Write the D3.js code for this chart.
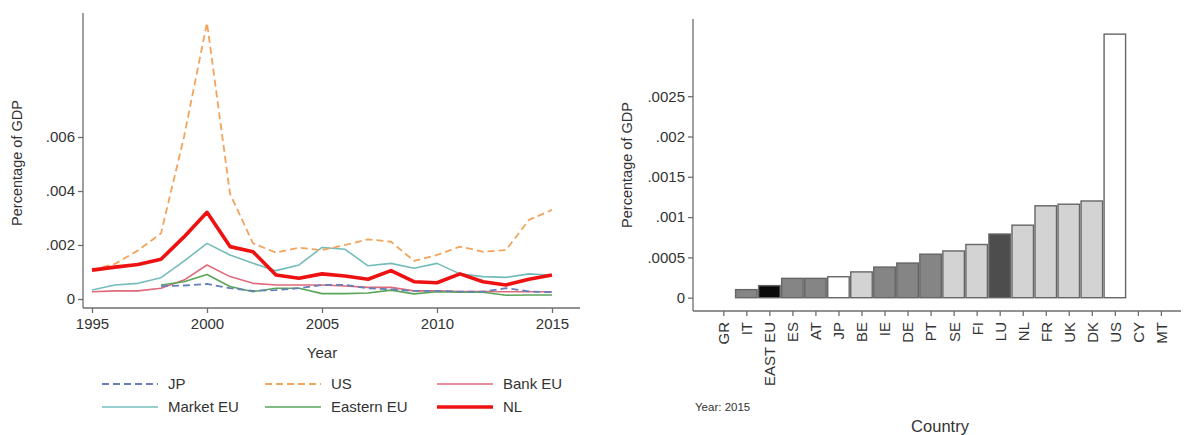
<!DOCTYPE html>
<html><head><meta charset="utf-8">
<script src="https://cdn.jsdelivr.net/npm/d3@7"></script>
<style>
body{margin:0;background:#fff;}
svg{display:block;font-family:"Liberation Sans",Arial,sans-serif;}
</style></head>
<body><svg id="c" width="1184" height="435"></svg>
<script>
// ---- Left chart data ----
const years = d3.range(1995, 2016);
const usVals   = [0.00107,0.0013,0.0018,0.00243,0.0060,0.01023,0.0039,0.00206,0.00172,0.0019,0.00181,0.0020,0.00221,0.00212,0.00141,0.00163,0.00194,0.00175,0.00181,0.00293,0.0033];
const nlVals   = [0.00107,0.00118,0.00128,0.00147,0.0023,0.00321,0.00194,0.00175,0.00089,0.00077,0.00093,0.00085,0.00073,0.00105,0.00064,0.0006,0.00093,0.00064,0.00052,0.00073,0.00089];
const marketEU = [0.00033,0.00052,0.00058,0.00079,0.0014,0.00206,0.00163,0.00132,0.00105,0.00126,0.00191,0.00184,0.00123,0.00132,0.00114,0.00132,0.00093,0.00083,0.0008,0.00093,0.00088];
const bankEU   = [0.00027,0.0003,0.0003,0.0004,0.0007,0.00126,0.00083,0.00058,0.00052,0.00052,0.00052,0.00048,0.00043,0.00043,0.0003,0.0003,0.00028,0.00028,0.00027,0.00027,0.00027];
const eastEU   = [null,null,null,0.00052,0.00064,0.00091,0.00046,0.00027,0.0004,0.0004,0.0002,0.0002,0.00022,0.00033,0.00019,0.00027,0.00025,0.00025,0.00014,0.00015,0.00015];
const jpVals   = [null,null,null,0.00048,0.0005,0.00056,0.0004,0.0003,0.00033,0.0004,0.00052,0.00052,0.0004,0.00036,0.0003,0.0003,0.00027,0.00027,0.0004,0.00028,0.00025];
const leftYTicks = [0, 0.002, 0.004, 0.006];
const leftXTicks = [1995, 2000, 2005, 2010, 2015];

// ---- Right chart data ----
const countries = ["GR","IT","EAST EU","ES","AT","JP","BE","IE","DE","PT","SE","FI","LU","NL","FR","UK","DK","US","CY","MT"];
const barVals   = [null,0.0001,0.00015,0.00024,0.00024,0.00026,0.00032,0.00038,0.00043,0.00054,0.00058,0.00066,0.00079,0.0009,0.00114,0.00116,0.0012,0.00327,null,null];
const barGroup  = ["","mid","black","mid","mid","white","light","mid","mid","mid","light","light","dark","light","light","light","light","white","",""];
const rightYTicks = [0, 0.0005, 0.001, 0.0015, 0.002, 0.0025];

const svg = d3.select("#c");
const fmt = d => d === 0 ? "0" : String(+d.toPrecision(6)).replace(/^0/, "");
const axisCol = "#6e6e6e";
const txtCol = "#333";
const FS = 15;

// ================= LEFT CHART =================
const lx = d3.scaleLinear().domain([1995, 2015]).range([92, 552]);
const ly = d3.scaleLinear().domain([0, 0.0106]).range([299, 12.8]);
const L = svg.append("g");

const yAxL = L.append("g").attr("transform","translate(83,0)")
  .call(d3.axisLeft(ly).tickValues(leftYTicks).tickFormat(fmt).tickSize(5).tickPadding(3));
yAxL.select(".domain").attr("d","M0,13V308");
const xAxL = L.append("g").attr("transform","translate(0,308)")
  .call(d3.axisBottom(lx).tickValues(leftXTicks).tickFormat(d3.format("d")).tickSize(5).tickPadding(5));
xAxL.select(".domain").attr("d","M83,0H580");
[yAxL, xAxL].forEach(a => {
  a.selectAll("path,line").attr("stroke", axisCol).attr("stroke-width", 1.3);
  a.selectAll("text").attr("fill", txtCol).attr("font-size", FS).attr("font-family","Liberation Sans, Arial, sans-serif");
});

L.append("text").attr("transform","translate(22,163) rotate(-90)").attr("text-anchor","middle")
  .attr("font-size",14.5).attr("fill",txtCol).text("Percentage of GDP");
L.append("text").attr("x",322).attr("y",358).attr("text-anchor","middle")
  .attr("font-size",15).attr("fill",txtCol).text("Year");

const series = [
  {name:"Bank EU",   vals:bankEU,   color:"#e0697a", w:1.6, dash:null},
  {name:"Eastern EU",vals:eastEU,   color:"#5aa55a", w:1.6, dash:null},
  {name:"JP",        vals:jpVals,   color:"#6580b8", w:1.8, dash:"7,4"},
  {name:"Market EU", vals:marketEU, color:"#74bcbc", w:1.6, dash:null},
  {name:"US",        vals:usVals,   color:"#f2a45c", w:1.8, dash:"7,4"},
  {name:"NL",        vals:nlVals,   color:"#ee1111", w:3.6, dash:null}
];
const line = d3.line().defined(d => d.v != null).x(d => lx(d.y)).y(d => ly(d.v));
series.forEach(s => {
  L.append("path").datum(years.map((y,i)=>({y:y, v:s.vals[i]})))
    .attr("d", line).attr("fill","none").attr("stroke", s.color)
    .attr("stroke-width", s.w).attr("stroke-dasharray", s.dash).attr("stroke-linejoin","round");
});

// legend
const legOrder = ["JP","US","Bank EU","Market EU","Eastern EU","NL"];
const legCols = [102, 265, 437];
const legRows = [384, 407];
legOrder.forEach((n, i) => {
  const s = series.find(t => t.name === n);
  const cx = legCols[i % 3], cy = legRows[Math.floor(i / 3)];
  L.append("line").attr("x1",cx).attr("x2",cx+56).attr("y1",cy).attr("y2",cy)
    .attr("stroke",s.color).attr("stroke-width",s.w).attr("stroke-dasharray",s.dash);
  L.append("text").attr("x",cx+66).attr("y",cy+5).attr("font-size",FS).attr("fill",txtCol).text(n);
});

// ================= RIGHT CHART =================
const rx = d3.scaleLinear().domain([0, countries.length - 1]).range([723.3, 1160.9]);
const ry = d3.scaleLinear().domain([0, 0.0035]).range([297.7, 15.6]);
const R = svg.append("g");
const fills = {mid:"#858585", black:"#0a0a0a", white:"#ffffff", light:"#d3d3d3", dark:"#4d4d4d"};
const bw = 21.5;
R.selectAll("rect").data(countries.map((c,i)=>({c:c, v:barVals[i], g:barGroup[i], i:i})).filter(d => d.v != null))
  .enter().append("rect")
  .attr("x", d => rx(d.i) - bw/2).attr("width", bw)
  .attr("y", d => ry(d.v)).attr("height", d => ry(0) - ry(d.v))
  .attr("fill", d => fills[d.g]).attr("stroke","#666").attr("stroke-width",1.4);

const yAxR = R.append("g").attr("transform","translate(693,0)")
  .call(d3.axisLeft(ry).tickValues(rightYTicks).tickFormat(fmt).tickSize(5).tickPadding(3));
yAxR.select(".domain").attr("d","M0,19V311");
const xAxR = R.append("g").attr("transform","translate(0,311)")
  .call(d3.axisBottom(rx).tickValues(d3.range(countries.length)).tickFormat(i => countries[i]).tickSize(5).tickPadding(3));
xAxR.select(".domain").attr("d","M693,0H1181");
[yAxR, xAxR].forEach(a => {
  a.selectAll("path,line").attr("stroke", axisCol).attr("stroke-width", 1.3);
  a.selectAll("text").attr("fill", txtCol).attr("font-size", FS).attr("font-family","Liberation Sans, Arial, sans-serif");
});
xAxR.selectAll("text").attr("transform","rotate(-90)").attr("text-anchor","end")
  .attr("x",-11).attr("y",0).attr("dy","0.36em");
R.append("text").attr("transform","translate(632,165) rotate(-90)").attr("text-anchor","middle")
  .attr("font-size",14.5).attr("fill",txtCol).text("Percentage of GDP");
R.append("text").attr("x",695).attr("y",411).attr("font-size",11.5).attr("fill",txtCol).text("Year: 2015");
R.append("text").attr("x",940).attr("y",432).attr("text-anchor","middle")
  .attr("font-size",16.5).attr("fill",txtCol).text("Country");
</script></body></html>
